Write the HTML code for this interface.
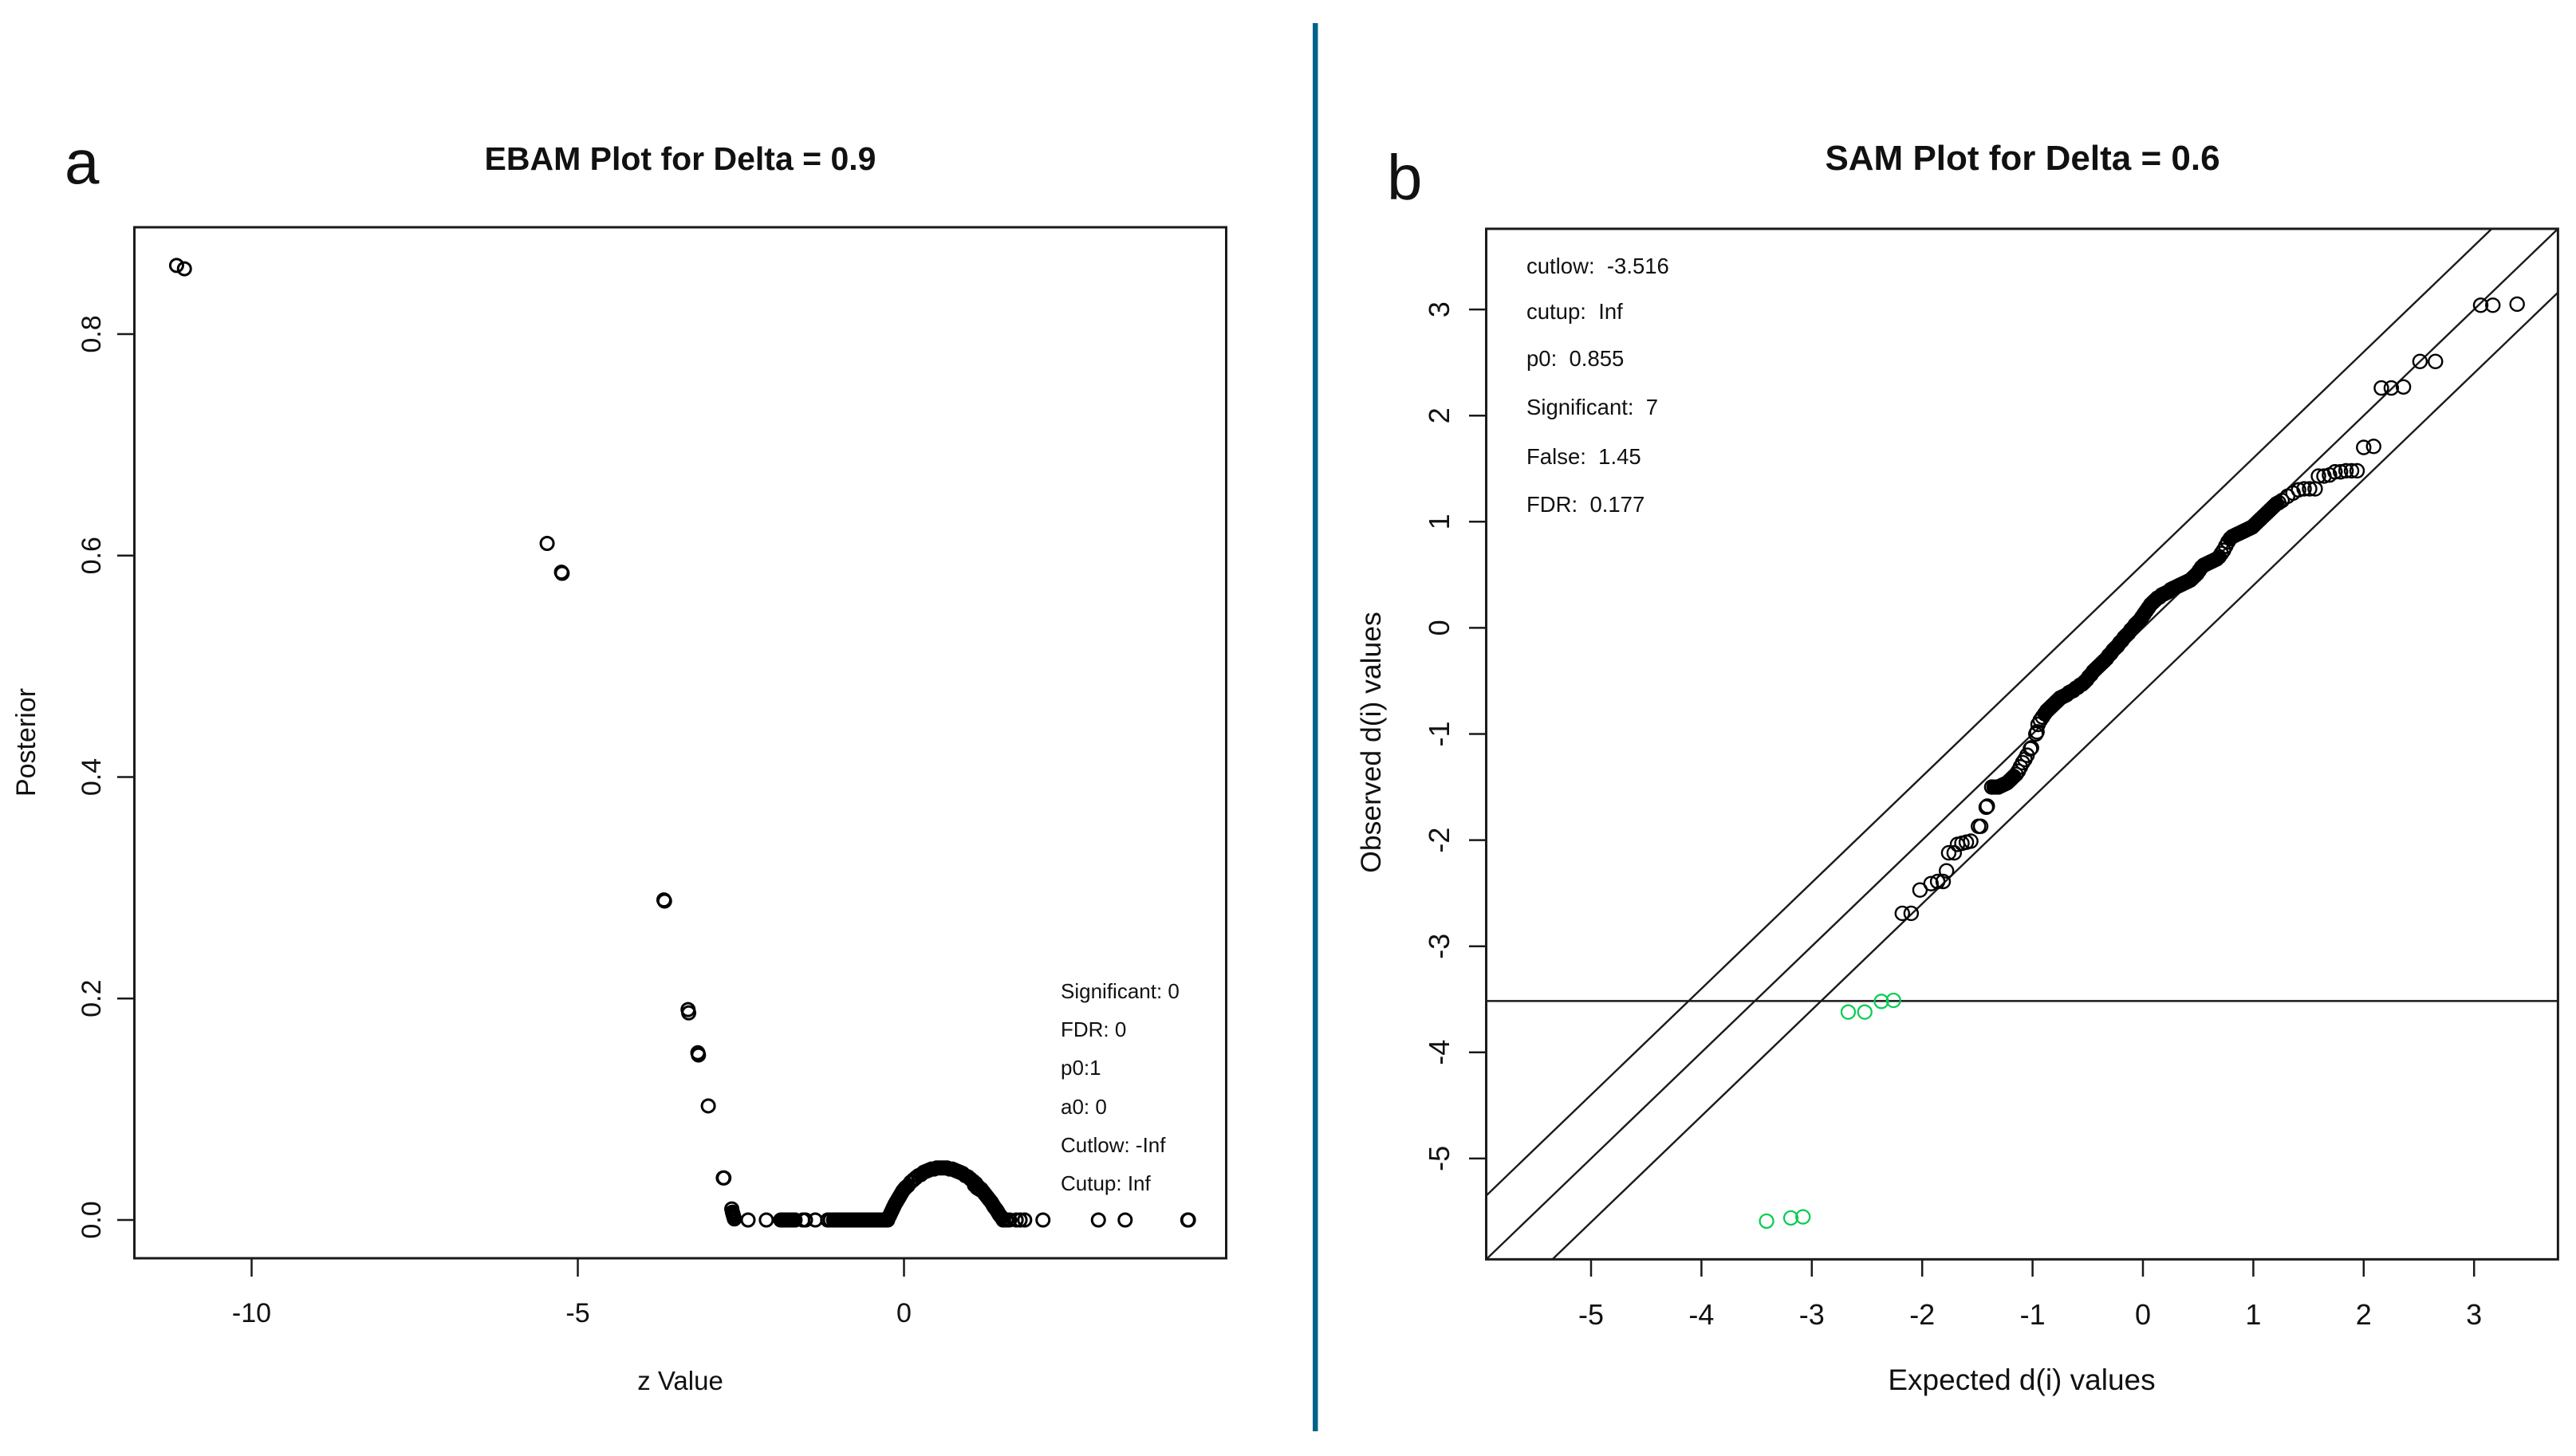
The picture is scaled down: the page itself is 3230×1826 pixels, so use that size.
<!DOCTYPE html>
<html lang="en">
<head>
<meta charset="utf-8">
<title>EBAM and SAM plots</title>
<style>
html,body{margin:0;padding:0;background:#fff;width:3230px;height:1826px;overflow:hidden}
svg{display:block}
text{font-family:"Liberation Sans",sans-serif;fill:#111;white-space:pre}
</style>
</head>
<body>
<svg id="figure" xmlns="http://www.w3.org/2000/svg" width="3230" height="1826" viewBox="0 0 3230 1826">
  <rect x="0" y="0" width="3230" height="1826" fill="#fff"/>
  <rect x="1646" y="29" width="6.5" height="1766" fill="#00628a"/>

  <text x="81" y="230" font-size="78">a</text>
  <text x="1739" y="250" font-size="80">b</text>

  <text x="853" y="213" font-size="41" font-weight="bold" text-anchor="middle">EBAM Plot for Delta = 0.9</text>
  <text x="2536" y="213" font-size="44" font-weight="bold" text-anchor="middle">SAM Plot for Delta = 0.6</text>

  <g id="ebam"></g>
  <g id="sam"></g>

  <text x="853" y="1743" font-size="33" text-anchor="middle">z Value</text>
  <text transform="translate(44,931) rotate(-90)" font-size="34" text-anchor="middle">Posterior</text>
  <text x="2535" y="1743" font-size="37" text-anchor="middle">Expected d(i) values</text>
  <text transform="translate(1731,931) rotate(-90)" font-size="35.5" text-anchor="middle">Observed d(i) values</text>

  <g font-size="26">
    <text x="1330" y="1252">Significant: 0</text>
    <text x="1330" y="1300">FDR: 0</text>
    <text x="1330" y="1348">p0:1</text>
    <text x="1330" y="1397">a0: 0</text>
    <text x="1330" y="1445">Cutlow: -Inf</text>
    <text x="1330" y="1493">Cutup: Inf</text>
  </g>
  <g font-size="27.5">
    <text x="1914" y="343">cutlow:  -3.516</text>
    <text x="1914" y="400">cutup:  Inf</text>
    <text x="1914" y="459">p0:  0.855</text>
    <text x="1914" y="520">Significant:  7</text>
    <text x="1914" y="582">False:  1.45</text>
    <text x="1914" y="642">FDR:  0.177</text>
  </g>
</svg>
<script>
// ---------- EBAM data ----------
const ebamXTicks = [-10, -5, 0];
const ebamXTickLabels = ['-10', '-5', '0'];
const ebamYTicks = [0, 0.2, 0.4, 0.6, 0.8];
const ebamYTickLabels = ['0.0', '0.2', '0.4', '0.6', '0.8'];
const ebamZ = [
  -11.15,-11.03,-5.47,-5.25,-5.24,-3.68,-3.67,-3.31,-3.30,-3.16,-3.15,-3.00,-2.77,-2.76,
  -2.64,-2.63,-2.62,-2.61,-2.60,-2.39,-2.11,-1.89,-1.86,-1.83,-1.79,-1.75,-1.71,-1.67,-1.55,-1.51,-1.36,-1.17,-1.13,
  -1.08,-1.05,-1.02,-0.99,-0.96,-0.93,-0.90,-0.87,-0.84,-0.81,-0.78,-0.75,-0.72,-0.69,-0.66,-0.63,-0.60,-0.57,-0.54,-0.51,-0.48,-0.45,-0.42,-0.39,-0.36,-0.33,-0.30,-0.27,
  -0.25,-0.22,-0.18,-0.14,-0.10,-0.06,-0.02,0.02,0.06,0.10,0.14,0.18,0.22,0.26,0.30,0.34,0.38,0.42,0.46,0.50,0.54,0.58,0.62,0.66,0.70,0.74,0.78,0.82,0.86,0.90,0.94,0.98,1.02,1.06,1.10,1.14,1.18,1.22,1.26,1.30,1.34,1.38,1.42,1.46,1.50,
  -0.24,-0.20,-0.16,-0.12,-0.08,-0.04,0.00,0.04,1.08,1.12,1.16,1.20,1.24,1.28,1.32,1.36,1.40,1.44,1.48,
  1.52,1.57,1.62,1.72,1.78,1.85,2.13,2.98,3.39,4.35,4.36
];
const ebamPosterior = [
  0.862,0.859,0.611,0.585,0.584,0.289,0.288,0.190,0.187,0.151,0.149,0.103,0.038,0.038,
  0.010,0.007,0.005,0.003,0.001,0,0,0,0,0,0,0,0,0,0,0,0,0,0,
  0,0,0,0,0,0,0,0,0,0,0,0,0,0,0,0,0,0,0,0,0,0,0,0,0,0,0,0,
  0.000,0.004,0.009,0.014,0.018,0.022,0.026,0.029,0.031,0.034,0.036,0.038,0.040,0.041,0.043,0.044,0.045,0.046,0.046,0.047,0.047,0.047,0.047,0.047,0.046,0.046,0.045,0.044,0.043,0.042,0.040,0.039,0.037,0.035,0.033,0.030,0.028,0.025,0.022,0.019,0.016,0.012,0.009,0.005,0.002,
  0.002,0.0065,0.0115,0.016,0.020,0.024,0.0275,0.030,0.0315,0.029,0.0275,0.0265,0.0235,0.0205,0.0175,0.014,0.0105,0.007,0.0035,
  0,0,0,0,0,0,0,0,0,0,0
];

// ---------- SAM data ----------
const samXTicks = [-5, -4, -3, -2, -1, 0, 1, 2, 3];
const samXTickLabels = ['-5', '-4', '-3', '-2', '-1', '0', '1', '2', '3'];
const samYTicks = [-5, -4, -3, -2, -1, 0, 1, 2, 3];
const samYTickLabels = ['-5', '-4', '-3', '-2', '-1', '0', '1', '2', '3'];
const samCutlow = [-3.516];
const samDelta = [0.6];
const samSigExpected = [-3.41,-3.19,-3.08,-2.67,-2.52,-2.37,-2.26];
const samSigObserved = [-5.59,-5.56,-5.55,-3.62,-3.62,-3.52,-3.51];
const samExpected = [
  -2.18,-2.10,-2.02,-1.92,-1.86,-1.81,-1.78,-1.76,-1.71,-1.68,-1.64,-1.60,-1.56,-1.49,-1.47,-1.42,-1.41,
  -1.37,-1.35,-1.33,-1.31,-1.29,-1.27,-1.25,-1.23,-1.21,-1.19,-1.17,-1.15,-1.13,-1.11,-1.09,-1.07,-1.05,-1.02,-1.01,-0.97,-0.96,
  -0.95,-0.93,-0.91,-0.89,-0.87,-0.85,-0.83,-0.81,-0.79,-0.77,-0.75,-0.73,-0.71,-0.69,-0.67,-0.65,-0.63,-0.61,-0.59,-0.57,-0.55,-0.53,-0.51,-0.49,-0.47,-0.45,-0.43,-0.41,-0.39,-0.37,-0.35,-0.33,-0.31,-0.29,-0.27,-0.25,-0.23,-0.21,-0.19,-0.17,-0.15,-0.13,-0.11,-0.09,-0.07,-0.05,-0.03,-0.01,
  0.01,0.03,0.05,0.07,0.09,0.11,0.13,0.15,0.17,0.19,0.21,0.23,0.25,0.27,0.29,0.31,0.33,0.35,0.37,0.39,0.41,0.43,0.45,0.47,0.49,0.51,0.53,0.55,0.57,0.59,0.61,0.63,0.65,0.67,0.69,0.71,0.73,0.75,0.77,0.79,0.81,0.83,0.85,0.87,0.89,0.91,0.93,0.95,0.97,0.99,
  1.01,1.03,1.05,1.07,1.09,1.11,1.13,1.15,1.17,1.19,1.21,1.23,1.26,1.31,1.36,1.41,1.46,1.51,1.56,1.59,1.64,1.69,1.74,1.79,1.84,1.89,1.94,2.00,2.09,2.16,2.25,2.36,2.51,2.65,3.06,3.17,3.39
];
const samObserved = [
  -2.69,-2.69,-2.47,-2.41,-2.39,-2.39,-2.29,-2.12,-2.12,-2.04,-2.03,-2.02,-2.01,-1.87,-1.87,-1.69,-1.68,
  -1.50,-1.50,-1.50,-1.50,-1.49,-1.48,-1.47,-1.46,-1.44,-1.42,-1.40,-1.38,-1.35,-1.31,-1.27,-1.24,-1.20,-1.14,-1.13,-1.00,-0.98,
  -0.91,-0.87,-0.84,-0.81,-0.78,-0.76,-0.74,-0.72,-0.70,-0.68,-0.66,-0.65,-0.64,-0.63,-0.61,-0.60,-0.59,-0.57,-0.56,-0.54,-0.53,-0.51,-0.49,-0.46,-0.44,-0.41,-0.39,-0.37,-0.35,-0.33,-0.31,-0.29,-0.26,-0.24,-0.21,-0.19,-0.17,-0.14,-0.12,-0.09,-0.07,-0.05,-0.02,0.00,0.03,0.05,0.07,0.10,
  0.13,0.16,0.19,0.22,0.24,0.26,0.28,0.29,0.31,0.32,0.33,0.34,0.36,0.37,0.38,0.39,0.40,0.41,0.42,0.43,0.44,0.45,0.47,0.49,0.51,0.54,0.57,0.59,0.60,0.61,0.62,0.63,0.64,0.65,0.67,0.70,0.73,0.77,0.81,0.84,0.86,0.87,0.88,0.89,0.90,0.91,0.92,0.93,0.94,0.95,
  0.97,0.99,1.01,1.03,1.05,1.07,1.09,1.11,1.13,1.15,1.17,1.18,1.20,1.24,1.27,1.30,1.31,1.31,1.31,1.43,1.43,1.44,1.47,1.47,1.48,1.48,1.48,1.70,1.71,2.26,2.26,2.27,2.51,2.51,3.04,3.04,3.05
];

// ---------- axis functions ----------
const ebamX = v => 1133.5 + v * 81.8;
const ebamY = v => 1530 - v * 1388.75;
const samX = v => 2687 + v * 138.4;
const samY = v => 787.4 - v * 133.1;
const samMin = -5.95;
const samMax = 3.76;

const NS = 'http://www.w3.org/2000/svg';
function make(parent, tag, attrs) {
  const el = document.createElementNS(NS, tag);
  for (const k in attrs) el.setAttribute(k, attrs[k]);
  parent.appendChild(el);
  return el;
}
const ink = '#1a1a1a';

// Overplotting: where many points pile up the rings merge into solid ink,
// so a ring with several close neighbours is drawn heavier (same outer size).
function neighbourCounts(xs, ys, reach) {
  return xs.map((x, i) => {
    let n = 0;
    xs.forEach((x2, j) => {
      if (j !== i && Math.hypot(x2 - x, ys[j] - ys[i]) <= reach) n++;
    });
    return n;
  });
}

// ---------- EBAM plot ----------
const ebam = document.getElementById('ebam');
const ebamFrame = make(ebam, 'rect', {x: 168.5, y: 285, width: 1369, height: 1293, fill: 'none', stroke: ink, 'stroke-width': 3});



ebamXTicks.forEach((t, i) => {
  const tick = make(ebam, 'line', {x1: ebamX(t), x2: ebamX(t), y1: 1578, y2: 1601, stroke: ink, 'stroke-width': 2.5});
  
  
  const lab = make(ebam, 'text', {x: ebamX(t), y: 1658, 'font-size': 34, 'text-anchor': 'middle'});
  lab.textContent = ebamXTickLabels[i];
  
  
});
ebamYTicks.forEach((t, i) => {
  const tick = make(ebam, 'line', {x1: 147, x2: 168, y1: ebamY(t), y2: ebamY(t), stroke: ink, 'stroke-width': 2.5});
  
  
  const lab = make(ebam, 'text', {transform: `translate(126,${ebamY(t)}) rotate(-90)`, 'font-size': 34, 'text-anchor': 'middle'});
  lab.textContent = ebamYTickLabels[i];
  
  
});
const ebamCrowd = neighbourCounts(ebamZ.map(ebamX), ebamPosterior.map(ebamY), 8);
ebamZ.forEach((z, i) => {
  const heavy = ebamCrowd[i] >= 4;
  const pt = make(ebam, 'circle', {cx: ebamX(z), cy: ebamY(ebamPosterior[i]), r: heavy ? 6 : 8, fill: 'none', stroke: '#000', 'stroke-width': heavy ? 7 : 3});
  
  
});

// ---------- SAM plot ----------
const sam = document.getElementById('sam');
const samClip = make(sam, 'clipPath', {id: 'sam-clip'});


make(samClip, 'rect', {x: samX(samMin), y: samY(samMax), width: samX(samMax) - samX(samMin), height: samY(samMin) - samY(samMax)});

[[0, 'sam-identity-line'], [samDelta[0], 'sam-upper-delta-line'], [-samDelta[0], 'sam-lower-delta-line']].forEach(([off, name]) => {
  const ln = make(sam, 'line', {x1: samX(samMin), y1: samY(samMin + off), x2: samX(samMax), y2: samY(samMax + off), stroke: ink, 'stroke-width': 2.4, 'clip-path': 'url(#sam-clip)'});
  
  
});
const cutLine = make(sam, 'line', {x1: samX(samMin), x2: samX(samMax), y1: samY(samCutlow[0]), y2: samY(samCutlow[0]), stroke: ink, 'stroke-width': 2.4});



const samFrame = make(sam, 'rect', {x: samX(samMin), y: samY(samMax), width: samX(samMax) - samX(samMin), height: samY(samMin) - samY(samMax), fill: 'none', stroke: ink, 'stroke-width': 3});



samXTicks.forEach((t, i) => {
  const tick = make(sam, 'line', {x1: samX(t), x2: samX(t), y1: 1580, y2: 1601, stroke: ink, 'stroke-width': 2.5});
  
  
  const lab = make(sam, 'text', {x: samX(t), y: 1661, 'font-size': 36, 'text-anchor': 'middle'});
  lab.textContent = samXTickLabels[i];
  
  
});
samYTicks.forEach((t, i) => {
  const tick = make(sam, 'line', {x1: 1842, x2: 1864, y1: samY(t), y2: samY(t), stroke: ink, 'stroke-width': 2.5});
  
  
  const lab = make(sam, 'text', {transform: `translate(1817,${samY(t)}) rotate(-90)`, 'font-size': 36, 'text-anchor': 'middle'});
  lab.textContent = samYTickLabels[i];
  
  
});
const samCrowd = neighbourCounts(samExpected.map(samX), samObserved.map(samY), 10);
samExpected.forEach((x, i) => {
  const heavy = samCrowd[i] >= 4;
  const pt = make(sam, 'circle', {cx: samX(x), cy: samY(samObserved[i]), r: heavy ? 5.8 : 8.5, fill: 'none', stroke: '#000', 'stroke-width': heavy ? 7.6 : 2.4});
  
  
});
samSigExpected.forEach((x, i) => {
  const pt = make(sam, 'circle', {cx: samX(x), cy: samY(samSigObserved[i]), r: 8.5, fill: 'none', stroke: '#00cd50', 'stroke-width': 2.2});
  
  
});
</script>
</body>
</html>
